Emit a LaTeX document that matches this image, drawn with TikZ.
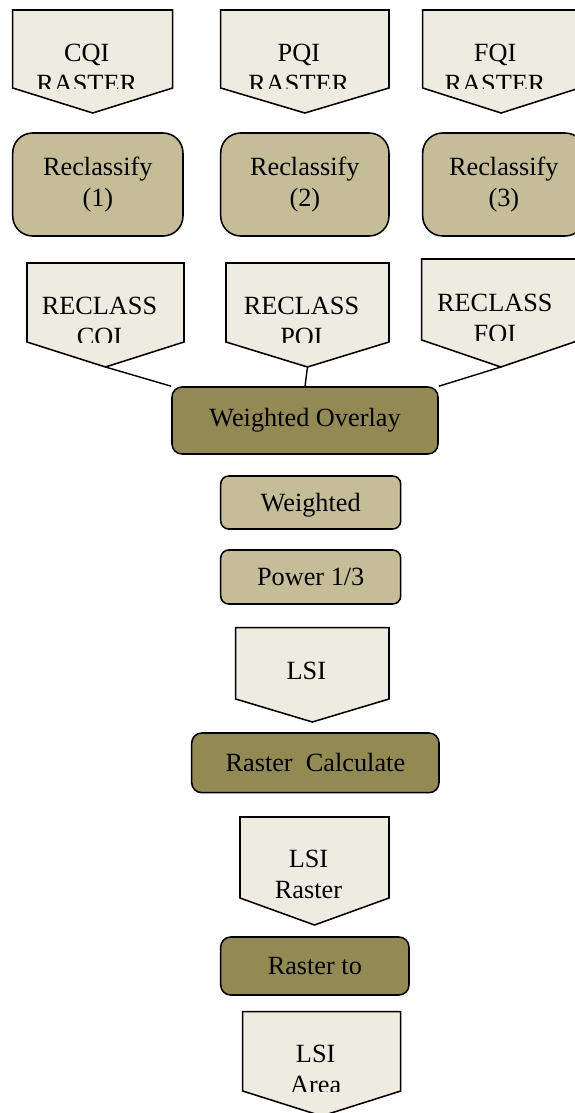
\documentclass[tikz,border=0pt]{standalone}
\usepackage{fontspec}
\setmainfont{Liberation Serif}
\usetikzlibrary{positioning}

\definecolor{palebg}{HTML}{EEECE1}
\definecolor{khakibg}{HTML}{C4BD97}
\definecolor{olivebg}{HTML}{938953}

\tikzset{
  datashape/.style={draw, fill=palebg, line width=1.1pt},
  toolbox/.style={draw, fill=khakibg, rectangle, line width=1.1pt, rounded corners=0.5cm},
  mainbox/.style={draw, fill=olivebg, rectangle, line width=1.1pt, rounded corners=0.25cm},
  link/.style={line width=1pt}
}

% data output shape: name, left, right, top, bottom, tip, last baseline, text
\newcommand{\dataout}[8]{%
  \draw[datashape] (#2,#4) -- (#3,#4) -- (#3,#5) -- ({(#2+#3)/2},#6) -- (#2,#5) -- cycle;
  \coordinate (#1 tip) at ({(#2+#3)/2},#6);
  \begin{scope}
    \clip (#2,#4) rectangle (#3,#5);
    \node[anchor=base] (#1) at ({(#2+#3)/2-0.15},#7) {#8};
  \end{scope}}

\begin{document}
\begin{tikzpicture}[every node/.style={font=\fontsize{18.7}{21.5}\selectfont, align=center, inner sep=2pt}]
  \useasboundingbox (0,0) rectangle (14.375,-27.825);

  % input rasters
  \dataout{cqi}{0.3175}{4.3175}{-0.25}{-2.2}{-2.825}{-2.305}{CQI\\RASTER}
  \dataout{pqi}{5.5175}{9.725}{-0.25}{-2.2}{-2.825}{-2.305}{PQI\\RASTER}
  \dataout{fqi}{10.5675}{14.4875}{-0.25}{-2.2}{-2.825}{-2.305}{FQI\\RASTER}

  \node[toolbox, minimum width=4.2575cm, minimum height=2.575cm] (rcl1) at (2.446,-4.6125) {Reclassify\\(1)};
  \node[toolbox, minimum width=4.2075cm, minimum height=2.575cm] (rcl2) at (7.621,-4.6125) {Reclassify\\(2)};
  \node[toolbox, minimum width=4.0575cm, minimum height=2.575cm] (rcl3) at (12.596,-4.6125) {Reclassify\\(3)};

  \dataout{rcq}{0.675}{4.6}{-6.575}{-8.55}{-9.175}{-8.63}{RECLASS\\CQI}
  \dataout{rpq}{5.65}{9.725}{-6.575}{-8.55}{-9.175}{-8.63}{RECLASS\\PQI}
  \dataout{rfq}{10.5425}{14.5}{-6.475}{-8.5}{-9.175}{-8.555}{RECLASS\\FQI}

  \node[mainbox, minimum width=6.65cm, minimum height=1.675cm] (wov) at (7.625,-10.5125) {Weighted Overlay};
  \draw[link] (rcq tip) -- (wov.north west);
  \draw[link] (rpq tip) -- (wov.north);
  \draw[link] (rfq tip) -- (wov.north east);

  % index
  \node[toolbox, rounded corners=0.2cm, minimum width=4.5cm, minimum height=1.325cm, text depth=0pt] (wsum) at (7.7675,-12.5625) {Weighted};
  \node[toolbox, rounded corners=0.2cm, minimum width=4.5cm, minimum height=1.35cm] (pow) at (7.7675,-14.425) {Power 1/3};
  \dataout{lsi}{5.8925}{9.725}{-15.6925}{-17.475}{-18.05}{-16.975}{LSI}

  \node[mainbox, minimum width=6.1825cm, minimum height=1.4925cm] (rcalc) at (7.884,-19.071) {Raster\ \ Calculate};
  \dataout{lsir}{6.0}{9.725}{-20.425}{-22.45}{-23.125}{-22.45}{LSI\\Raster}

  \node[mainbox, minimum width=4.7075cm, minimum height=1.45cm] (rto) at (7.871,-24.15) {Raster to};
  \dataout{lsia}{6.0675}{10.0175}{-25.2925}{-27.275}{-27.9}{-27.33}{LSI\\Area}
\end{tikzpicture}
\end{document}
